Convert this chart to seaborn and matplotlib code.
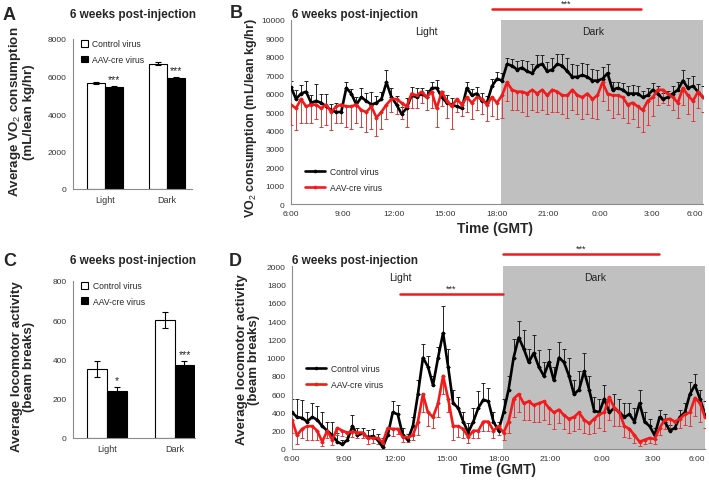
import numpy as np
import pandas as pd
import matplotlib
matplotlib.use("Agg")
import matplotlib.pyplot as plt
import seaborn as sns

# ---------------- data ----------------
phases = ["Light", "Dark"]
groups = ["Control virus", "AAV-cre virus"]

# Panel A: average VO2
a_ctrl = [5650, 6680]
a_ctrl_err = [50, 80]
a_aav = [5450, 5930]
a_aav_err = [40, 30]
a_sig = ["***", "***"]

# Panel C: average locomotor activity
c_ctrl = [350, 600]
c_ctrl_err = [40, 40]
c_aav = [240, 370]
c_aav_err = [20, 20]
c_sig = ["*", "***"]

# Panel B: VO2 time course (6:00 -> 6:00)
b_ctrl = [6350, 5700, 6000, 6100, 5500, 5600, 5500, 5300, 5100, 5000,
          5000, 6300, 6000, 5400, 5800, 5600, 5400, 5500, 5700, 6600,
          5800, 5400, 4900, 5200, 5900, 5800, 6000, 5800, 6300, 6300,
          5800, 5500, 5400, 5300, 5200, 6300, 5900, 6000, 5600, 5500,
          6400, 6800, 6700, 7600, 7500, 7300, 7400, 7200, 7100, 7500,
          7600, 7200, 7300, 7600, 7500, 7200, 6900, 6900, 7000, 6900,
          6700, 6700, 6800, 7100, 6200, 6300, 6200, 6000, 6000, 6000,
          5800, 5900, 6200, 6000, 5700, 5800, 6000, 6200, 6700, 6300,
          6400, 6100, 5800]
b_ctrl_err = [350, 500, 450, 600, 400, 900, 450, 700, 350, 500,
              450, 300, 250, 400, 500, 450, 700, 350, 400, 650,
              500, 450, 350, 550, 450, 500, 300, 400, 350, 450,
              350, 400, 350, 300, 350, 300, 350, 350, 450, 350,
              400, 350, 400, 300, 350, 450, 400, 550, 500, 600,
              500, 500, 650, 550, 650, 700, 700, 650, 650, 700,
              650, 600, 650, 500, 450, 350, 350, 400, 450, 400,
              350, 400, 350, 400, 350, 350, 400, 450, 600, 550,
              550, 400, 600]
b_aav = [5400, 5200, 5700, 5300, 5400, 5400, 5200, 5400, 5000, 5300,
         5400, 5300, 5300, 5400, 5100, 5000, 5300, 4700, 5000, 5400,
         5700, 5700, 5500, 5300, 6000, 5900, 6100, 5800, 6100, 5200,
         6100, 5600, 5300, 5700, 5400, 5800, 5500, 5800, 5700, 5400,
         5800, 5500, 5900, 6600, 6200, 6100, 6100, 6000, 6200, 6000,
         6200, 5900, 6200, 6100, 5900, 5900, 6200, 5900, 5800, 6000,
         5700, 5900, 6600, 6000, 5900, 5900, 5800, 5400, 5500, 5300,
         5100, 5600, 5800, 6200, 6200, 6000, 5800, 5500, 6300, 5900,
         5600, 6100, 5800]
b_aav_err = [1100, 1200, 1300, 900, 1000, 800, 1000, 1100, 1000, 900,
             1000, 1100, 1200, 1000, 900, 1100, 1200, 1000, 900, 800,
             700, 800, 900, 1100, 800, 700, 600, 700, 900, 1000,
             800, 900, 1200, 700, 600, 800, 900, 700, 800, 900,
             1000, 900, 1200, 1000, 1100, 1000, 1100, 1200, 1100, 1000,
             1100, 1000, 1200, 1100, 1000, 1200, 1100, 1000, 1200, 1100,
             1000, 1300, 1000, 900, 1200, 1000, 1100, 1000, 900, 1100,
             1200, 1300, 1000, 800, 700, 600, 700, 800, 900, 1000,
             1100, 900, 800]

# Panel D: locomotor activity time course
d_ctrl = [400, 350, 340, 300, 350, 320, 250, 200, 150, 80,
          50, 100, 250, 150, 170, 130, 140, 100, 20, 150,
          400, 380, 150, 100, 250, 600, 1000, 900, 700, 1000,
          1270, 900, 500, 450, 300, 180, 300, 450, 540, 520,
          300, 200, 400, 650, 1000, 1220, 1100, 950, 1050, 900,
          800, 950, 750, 1000, 950, 800, 600, 650, 850, 650,
          420, 400, 550, 400, 450, 400, 350, 380, 300, 500,
          300, 250, 150, 350, 300, 200, 230, 350, 400, 600,
          700, 550, 380]
d_ctrl_err = [150, 200, 200, 100, 150, 150, 150, 100, 150, 100,
              50, 80, 120, 80, 60, 80, 80, 60, 100, 80,
              120, 100, 80, 60, 100, 150, 150, 120, 100, 120,
              290, 200, 150, 120, 100, 100, 150, 180, 180, 150,
              100, 100, 150, 150, 200, 180, 200, 150, 200, 180,
              150, 150, 150, 170, 150, 200, 150, 200, 200, 150,
              150, 150, 150, 150, 150, 150, 150, 120, 150, 150,
              100, 80, 80, 80, 80, 60, 80, 80, 100, 130,
              120, 100, 150]
d_aav = [320, 150, 220, 250, 250, 200, 80, 200, 100, 230,
         200, 180, 190, 180, 180, 120, 120, 120, 70, 230,
         220, 220, 130, 130, 150, 300, 600, 400, 350, 500,
         800, 550, 250, 250, 220, 130, 200, 200, 300, 300,
         200, 250, 180, 300, 550, 600, 500, 520, 480, 500,
         520, 450, 400, 430, 370, 330, 350, 400, 320, 280,
         330, 380, 400, 570, 450, 400, 250, 220, 150, 80,
         100, 120, 110, 230, 320, 330, 300, 330, 380, 400,
         560, 500, 350]
d_aav_err = [150, 100, 100, 150, 150, 100, 50, 80, 60, 80,
             60, 50, 60, 60, 60, 60, 50, 60, 50, 80,
             80, 60, 50, 50, 50, 150, 200, 150, 120, 150,
             200, 150, 150, 120, 100, 60, 80, 80, 100, 100,
             80, 100, 80, 120, 200, 200, 180, 200, 180, 200,
             200, 180, 180, 150, 150, 150, 150, 180, 150, 120,
             150, 150, 200, 250, 200, 150, 120, 100, 80, 50,
             50, 50, 50, 80, 100, 100, 80, 100, 120, 150,
             200, 200, 120]

time_ticks = [6, 9, 12, 15, 18, 21, 24, 27, 30]
time_labels = ["6:00", "9:00", "12:00", "15:00", "18:00", "21:00", "0:00", "3:00", "6:00"]

# ---------------- style ----------------
sns.set_style("white")
plt.rcParams["font.family"] = ["Liberation Sans", "DejaVu Sans"]
plt.rcParams["mathtext.fontset"] = "custom"
plt.rcParams["mathtext.rm"] = "Liberation Sans"
plt.rcParams["mathtext.bf"] = "Liberation Sans:bold"

W, H = 709, 489
fig = plt.figure(figsize=(W / 100, H / 100), dpi=100)

def px_axes(l, t, r, b):
    return fig.add_axes([l / W, 1 - b / H, (r - l) / W, (b - t) / H])

def ftext(x, y, s, **kw):
    fig.text(x / W, 1 - y / H, s, **kw)

AX_COL = "#8c8c8c"
TICK_COL = "#333333"
RED = "#f21b1b"
RED_ERR = "#e2383b"

def style_axes(ax):
    for s in ["top", "right"]:
        ax.spines[s].set_visible(False)
    for s in ["left", "bottom"]:
        ax.spines[s].set_color(AX_COL)
        ax.spines[s].set_linewidth(0.8)
    ax.tick_params(axis="both", which="both", colors=AX_COL, labelcolor=TICK_COL,
                   labelsize=6, direction="out", length=2.5, width=0.7, pad=2)

def bar_panel(ax, ctrl, ctrl_err, aav, aav_err, ymax, ystep, sig, xlim):
    df = pd.DataFrame({
        "Phase": phases * 2,
        "Group": [groups[0]] * 2 + [groups[1]] * 2,
        "value": list(ctrl) + list(aav),
    })
    sns.barplot(data=df, x="Phase", y="value", hue="Group", hue_order=groups,
                palette={groups[0]: "white", groups[1]: "black"},
                edgecolor="black", linewidth=0.8, width=0.58, errorbar=None,
                saturation=1, ax=ax)
    for cont, errs, vals, is_aav in zip(ax.containers, [ctrl_err, aav_err], [ctrl, aav], [False, True]):
        for k, (bar, e, v) in enumerate(zip(cont, errs, vals)):
            xc = bar.get_x() + bar.get_width() / 2
            ax.errorbar(xc, v, yerr=e, fmt="none", ecolor="black", elinewidth=0.8,
                        capsize=2.5, capthick=0.8, zorder=5)
            if is_aav:
                ax.text(xc, v + e + ymax * 0.015, sig[k], ha="center", va="bottom",
                        fontsize=7.5, color="#222222")
    ax.set_ylim(0, ymax)
    ax.set_yticks(np.arange(0, ymax + 1, ystep))
    ax.set_xlim(*xlim)
    ax.set_xlabel("")
    ax.set_ylabel("")
    style_axes(ax)
    ax.tick_params(axis="x", length=0, labelsize=6.5, pad=4)
    sns.move_legend(ax, "upper left", frameon=False, title=None, fontsize=6.2,
                    handlelength=0.8, handleheight=0.8, handletextpad=0.5,
                    labelspacing=0.75, borderaxespad=0.0, bbox_to_anchor=(0.04, 1.02))

def line_panel(ax, ctrl, ctrl_err, aav, aav_err, ymax, ystep, legend_anchor):
    t = np.linspace(6, 30, len(ctrl))
    ax.axvspan(18.25, 30, color="#c0c0c0", lw=0, zorder=0)
    zeros = np.zeros(len(t))
    ax.errorbar(t, ctrl, yerr=[zeros, ctrl_err], fmt="none", ecolor="#222222",
                elinewidth=0.7, capsize=1.6, capthick=0.7, zorder=2)
    ax.errorbar(t, aav, yerr=[aav_err, zeros], fmt="none", ecolor=RED_ERR,
                elinewidth=0.7, capsize=1.6, capthick=0.7, zorder=3)
    df = pd.DataFrame({
        "time": np.concatenate([t, t]),
        "value": list(ctrl) + list(aav),
        "group": [groups[0]] * len(t) + [groups[1]] * len(t),
    })
    sns.lineplot(data=df, x="time", y="value", hue="group", hue_order=groups,
                 palette={groups[0]: "black", groups[1]: RED}, linewidth=1.9,
                 marker="o", markersize=2.6, markeredgewidth=0, ax=ax, zorder=4)
    ax.set_xlim(6, 30)
    ax.set_ylim(0, ymax)
    ax.set_yticks(np.arange(0, ymax + 1, ystep))
    ax.set_xticks(time_ticks)
    ax.set_xticklabels(time_labels)
    ax.set_xticks(np.arange(6 + 2.44, 30, 2.44), minor=True)
    ax.set_xlabel("")
    ax.set_ylabel("")
    style_axes(ax)
    ax.tick_params(axis="x", which="major", length=0, pad=4)
    ax.tick_params(axis="x", which="minor", length=2.5)
    ax.get_xticklabels()[-1].set_horizontalalignment("right")
    sns.move_legend(ax, "lower left", frameon=False, title=None, fontsize=6.2,
                    handlelength=2.4, handletextpad=0.5, labelspacing=0.8,
                    borderaxespad=0.0, bbox_to_anchor=legend_anchor)

# ---------------- panels ----------------
axA = px_axes(73, 40, 192, 190)
bar_panel(axA, a_ctrl, a_ctrl_err, a_aav, a_aav_err, 8000, 2000, a_sig, (-0.52, 1.4))

axC = px_axes(73, 282, 195, 439)
bar_panel(axC, c_ctrl, c_ctrl_err, c_aav, c_aav_err, 800, 200, c_sig, (-0.5, 1.3))

axB = px_axes(291, 20.7, 703, 205.3)
line_panel(axB, b_ctrl, b_ctrl_err, b_aav, b_aav_err, 10000, 1000, (0.025, 0.05))
axB.text(13.9, 9400, "Light", ha="center", va="center", fontsize=7.5, color="#222222")
axB.text(23.6, 9400, "Dark", ha="center", va="center", fontsize=7.5, color="#222222")
axB.plot([17.71, 26.39], [10600, 10600], color=RED, lw=1.8, clip_on=False)
axB.text(22.05, 10650, "***", ha="center", va="bottom", fontsize=6.5, color="#222222")

axD = px_axes(292, 267.3, 705, 450)
line_panel(axD, d_ctrl, d_ctrl_err, d_aav, d_aav_err, 2000, 200, (0.025, 0.31))
axD.text(12.3, 1880, "Light", ha="center", va="center", fontsize=7.5, color="#222222")
axD.text(23.6, 1880, "Dark", ha="center", va="center", fontsize=7.5, color="#222222")
axD.plot([12.28, 18.26], [1697, 1697], color=RED, lw=1.8, clip_on=False)
axD.text(15.27, 1712, "***", ha="center", va="bottom", fontsize=6.5, color="#222222")
axD.plot([18.26, 27.33], [2135, 2135], color=RED, lw=1.8, clip_on=False)
axD.text(22.8, 2150, "***", ha="center", va="bottom", fontsize=6.5, color="#222222")

# ---------------- texts ----------------
title = "6 weeks post-injection"
ftext(133, 15, title, ha="center", va="center", fontsize=8.5, fontweight="bold")
ftext(133, 261, title, ha="center", va="center", fontsize=8.5, fontweight="bold")
ftext(292, 15, title, ha="left", va="center", fontsize=8.5, fontweight="bold")
ftext(292, 261, title, ha="left", va="center", fontsize=8.5, fontweight="bold")

for x, y, s in [(3, 15, "A"), (230, 14, "B"), (3, 261, "C"), (229, 261, "D")]:
    ftext(x, y, s, ha="left", va="center", fontsize=13, fontweight="bold")

ftext(21, 112, "Average VO$_2$ consumption\n(mL/lean kg/hr)", ha="center", va="center",
      rotation=90, fontsize=9.6, fontweight="bold", linespacing=1.05)
ftext(251, 118, "VO$_2$ consumption (mL/lean kg/hr)", ha="center", va="center",
      rotation=90, fontsize=9.0, fontweight="bold")
ftext(23, 367, "Average locomotor activity\n(beam breaks)", ha="center", va="center",
      rotation=90, fontsize=9.6, fontweight="bold", linespacing=1.05)
ftext(248, 360, "Average locomotor activity\n(beam breaks)", ha="center", va="center",
      rotation=90, fontsize=9.6, fontweight="bold", linespacing=1.05)
ftext(495, 229, "Time (GMT)", ha="center", va="center", fontsize=10, fontweight="bold")
ftext(498, 470, "Time (GMT)", ha="center", va="center", fontsize=10, fontweight="bold")

fig.savefig("out.png", dpi=100)
